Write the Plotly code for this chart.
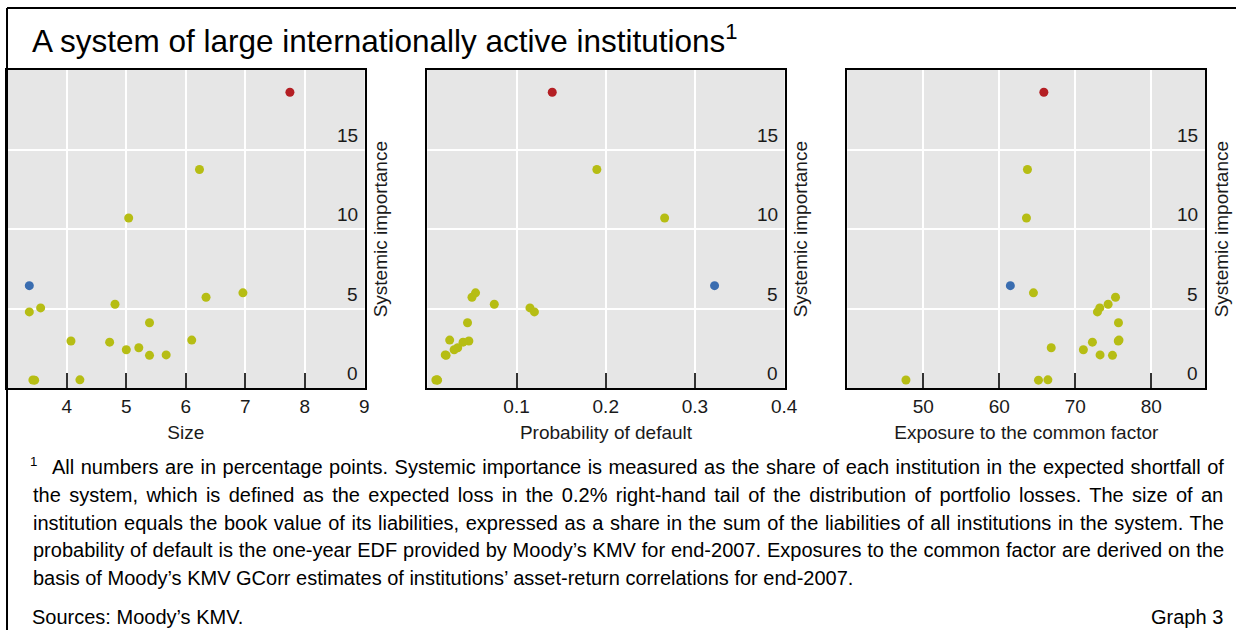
import plotly.graph_objects as go

# ---------------- data ----------------
institutions = ["A", "B", "C", "D", "E", "F", "G", "H", "I", "J",
                "K", "L", "M", "N", "O", "P", "Q", "R", "S", "T"]
size = [7.75, 6.23, 5.04, 3.37, 6.96, 6.34, 4.81, 3.56, 3.37, 5.39,
        6.10, 4.07, 4.72, 5.21, 5.00, 5.67, 5.39, 3.43, 3.46, 4.22]
prob_default = [0.140, 0.190, 0.266, 0.322, 0.054, 0.050, 0.075, 0.115, 0.120, 0.045,
                0.025, 0.0465, 0.040, 0.034, 0.030, 0.020, 0.021, 0.0095, 0.0114, 0.0110]
exposure = [65.86, 63.70, 63.57, 61.45, 64.49, 75.29, 74.32, 73.22, 72.91, 75.68,
            75.75, 75.65, 72.25, 66.83, 71.06, 73.26, 74.89, 47.71, 65.15, 66.39]
importance = [18.6, 13.75, 10.70, 6.45, 6.00, 5.72, 5.28, 5.05, 4.80, 4.12,
              3.03, 2.97, 2.90, 2.55, 2.42, 2.10, 2.07, 0.52, 0.51, 0.53]
group = ["largest", "other", "other", "highlight", "other", "other", "other", "other", "other", "other",
         "other", "other", "other", "other", "other", "other", "other", "other", "other", "other"]

x_titles = ["Size", "Probability of default", "Exposure to the common factor"]
x_ticks = [[4, 5, 6, 7, 8, 9], [0.1, 0.2, 0.3, 0.4], [50, 60, 70, 80]]
x_ticktext = [["4", "5", "6", "7", "8", "9"], ["0.1", "0.2", "0.3", "0.4"], ["50", "60", "70", "80"]]
y_ticks = [0, 5, 10, 15]
y_ticktext = ["0", "5", "10", "15"]
y_title = "Systemic importance"

title_text = "A system of large internationally active institutions"
footnote_lines = [
    "All numbers are in percentage points. Systemic importance is measured as the share of each institution in the expected shortfall of",
    "the system, which is defined as the expected loss in the 0.2% right-hand tail of the distribution of portfolio losses. The size of an",
    "institution equals the book value of its liabilities, expressed as a share in the sum of the liabilities of all institutions in the system. The",
    "probability of default is the one-year EDF provided by Moody\u2019s KMV for end-2007. Exposures to the common factor are derived on the",
    "basis of Moody\u2019s KMV GCorr estimates of institutions\u2019 asset-return correlations for end-2007.",
]
source_text = "Sources: Moody\u2019s KMV."
graph_label = "Graph 3"

# ---------------- style ----------------
REF_W, H = 1236, 630      # reference layout grid (pixels)
W = 1251                  # page width used for rendering
FONT = "Liberation Sans, Arial, sans-serif"
colors = {"largest": "#b41f24", "highlight": "#3a6db0", "other": "#b6bd14"}
x_ranges = [[2.995, 9.005], [0.0, 0.4005], [40.0, 87.1]]
x_domains_px = [(7, 364), (426.7, 783.3), (846, 1203.3)]
y_top_px, y_bot_px = 70, 388.3
footnote_word_spacing = [0.95, 2.8, 1.0, 0.3, 0.0]   # approximate justification

xs_all = [size, prob_default, exposure]

fig = go.Figure()
point_colors = [colors[g] for g in group]

for i in range(3):
    suffix = "" if i == 0 else str(i + 1)
    fig.add_trace(go.Scatter(
        x=xs_all[i], y=importance, mode="markers",
        marker=dict(color=point_colors, size=9, line=dict(width=0)),
        xaxis="x" + suffix, yaxis="y" + suffix,
        text=institutions, showlegend=False,
        hovertemplate="%{text}: %{x}, %{y}<extra></extra>",
    ))

layout = dict(
    width=W, height=H,
    autosize=False,
    margin=dict(l=0, r=0, t=0, b=0),
    paper_bgcolor="white",
    plot_bgcolor="#e6e6e6",
    font=dict(family=FONT, size=19, color="#1a1a1a"),
    showlegend=False,
)

annotations = []
for i in range(3):
    suffix = "" if i == 0 else str(i + 1)
    x0, x1 = x_domains_px[i]
    layout["xaxis" + suffix] = dict(
        domain=[x0 / REF_W, x1 / REF_W],
        range=x_ranges[i],
        tickvals=x_ticks[i], ticktext=x_ticktext[i],
        ticks="inside", ticklen=15, tickwidth=2, tickcolor="#333333",
        showgrid=True, gridcolor="white", gridwidth=2,
        showline=True, linecolor="black", linewidth=2, mirror=True,
        zeroline=False,
        tickfont=dict(size=19),
        title=dict(text=x_titles[i], font=dict(size=19), standoff=10),
        anchor="y" + suffix,
        fixedrange=True,
    )
    layout["yaxis" + suffix] = dict(
        domain=[1 - y_bot_px / H, 1 - y_top_px / H],
        range=[0, 20],
        tickvals=y_ticks,
        side="right",
        ticks="",
        showticklabels=False,
        showgrid=True, gridcolor="white", gridwidth=2,
        showline=True, linecolor="black", linewidth=2, mirror=True,
        zeroline=False,
        title=dict(text=y_title, font=dict(size=19), standoff=8),
        anchor="x" + suffix,
        fixedrange=True,
    )
    # y tick labels drawn inside the plot, just above each gridline
    for v, t in zip(y_ticks, y_ticktext):
        annotations.append(dict(
            text=t, x=1, y=v, xref="x" + suffix + " domain", yref="y" + suffix,
            xanchor="right", yanchor="bottom", xshift=-5, yshift=2,
            showarrow=False, font=dict(size=19, color="#1a1a1a"),
        ))

fig.update_layout(**layout)

annotations += [
    dict(text=title_text + "<sup>1</sup>", x=30 / REF_W, y=1 - 39 / H, xref="paper", yref="paper",
         xanchor="left", yanchor="middle", showarrow=False, font=dict(size=31.5, color="black")),
    dict(text="<sup>1</sup>", x=28 / REF_W, y=1 - 462 / H, xref="paper", yref="paper",
         xanchor="left", yanchor="middle", showarrow=False, font=dict(size=19, color="black")),
    dict(text=source_text, x=30 / REF_W, y=1 - 617 / H, xref="paper", yref="paper",
         xanchor="left", yanchor="middle", showarrow=False, font=dict(size=20, color="black")),
    dict(text=graph_label, x=1223 / REF_W, y=1 - 617 / H, xref="paper", yref="paper",
         xanchor="right", yanchor="middle", showarrow=False, font=dict(size=20, color="black")),
]
line_y0, line_gap = 467, 27.8
for k, line in enumerate(footnote_lines):
    x_left = 50 if k == 0 else 31
    ws = footnote_word_spacing[k]
    txt = line if ws == 0 else '<span style="word-spacing:%.2fpx">%s</span>' % (ws, line)
    annotations.append(dict(text=txt, x=x_left / REF_W, y=1 - (line_y0 + k * line_gap) / H,
                            xref="paper", yref="paper", xanchor="left", yanchor="middle",
                            showarrow=False, font=dict(size=20, color="black")))
fig.update_layout(annotations=annotations)

fig.update_layout(shapes=[
    dict(type="line", xref="paper", yref="paper", x0=7 / REF_W, x1=1, y0=1 - 8 / H, y1=1 - 8 / H,
         line=dict(color="black", width=2)),
    dict(type="line", xref="paper", yref="paper", x0=7 / REF_W, x1=7 / REF_W, y0=0, y1=1 - 8 / H,
         line=dict(color="black", width=2)),
])

fig.write_html(
    "out.html",
    config={"displayModeBar": False, "responsive": False},
    post_script="document.documentElement.style.overflow='hidden';document.documentElement.style.margin='0';document.body.style.margin='0';document.body.style.overflow='hidden';",
)
